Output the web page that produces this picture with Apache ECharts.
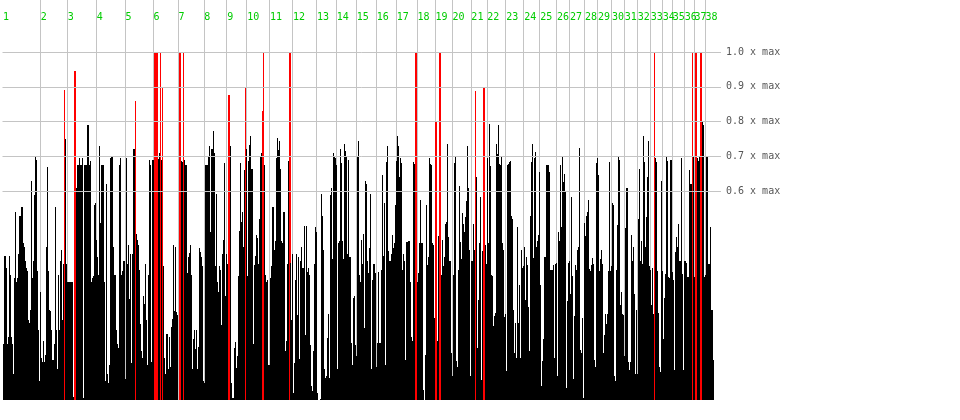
<!DOCTYPE html>
<html>
<head>
<meta charset="utf-8">
<script src="https://cdn.jsdelivr.net/npm/echarts@6.0.0/dist/echarts.min.js"></script>
<style>html,body{margin:0;padding:0;background:#fff;}#c{width:960px;height:420px;}</style>
</head>
<body>
<div id="c"></div>
<script>
// bar values as fraction of max, one per sample
var values = [
0.02,0.16,0.415,0.415,0.38,0.16,0.18,0.415,0.36,0.18,
0.16,0.074,0.35,0.54,0.34,0.35,0.42,0.53,0.53,0.556,
0.556,0.45,0.44,0.40,0.38,0.37,0.23,0.22,0.26,0.63,
0.35,0.40,0.59,0.70,0.69,0.37,0.20,0.055,0.31,0.12,
0.11,0.17,0.11,0.13,0.44,0.67,0.37,0.26,0.255,0.20,
0.115,0.115,0.16,0.555,0.20,0.09,0.36,0.20,0.40,0.43,
0.23,0.39,0.89,0.75,0.39,0.34,0.34,0.34,0.34,0.34,
0.34,0.01,0.945,0.945,0.61,0.675,0.675,0.695,0.675,0.675,
0.695,0.005,0.675,0.675,0.675,0.79,0.79,0.675,0.686,0.34,
0.35,0.356,0.56,0.566,0.46,0.41,0.36,0.73,0.51,0.675,
0.675,0.675,0.34,0.055,0.62,0.074,0.05,0.10,0.694,0.70,
0.70,0.44,0.36,0.36,0.20,0.16,0.15,0.675,0.695,0.36,
0.37,0.40,0.40,0.06,0.694,0.39,0.446,0.29,0.42,0.105,
0.42,0.72,0.72,0.86,0.477,0.46,0.445,0.374,0.217,0.14,
0.12,0.30,0.277,0.39,0.23,0.10,0.358,0.69,0.675,0.11,
0.69,0.69,1.0,1.0,1.0,1.0,0.693,0.71,1.0,0.69,
0.896,0.384,0.12,0.074,0.19,0.19,0.09,0.18,0.096,0.21,
0.233,0.446,0.256,0.44,0.253,0.245,0.0,1.0,1.0,0.687,
0.685,1.0,0.69,0.675,0.675,0.365,0.41,0.423,0.446,0.36,
0.09,0.174,0.20,0.146,0.20,0.09,0.153,0.436,0.425,0.41,
0.384,0.055,0.05,0.675,0.675,0.675,0.70,0.73,0.484,0.72,
0.72,0.774,0.71,0.384,0.593,0.34,0.31,0.384,0.374,0.215,
0.42,0.46,0.68,0.30,0.42,0.39,0.877,0.877,0.73,0.05,
0.005,0.005,0.15,0.166,0.093,0.125,0.355,0.487,0.68,0.512,
0.54,0.44,0.66,0.90,0.72,0.355,0.687,0.732,0.758,0.665,
0.665,0.16,0.387,0.415,0.474,0.465,0.39,0.52,0.70,0.71,
0.83,1.0,0.675,0.36,0.34,0.346,0.10,0.10,0.35,0.384,
0.555,0.555,0.43,0.458,0.694,0.753,0.717,0.745,0.665,0.458,
0.45,0.54,0.54,0.14,0.17,0.39,0.687,1.0,1.0,0.393,
0.23,0.42,0.02,0.105,0.345,0.42,0.245,0.41,0.117,0.40,
0.44,0.38,0.38,0.50,0.187,0.50,0.368,0.38,0.36,0.158,
0.04,0.025,0.14,0.39,0.496,0.484,0.02,0.0,0.0,0.003,
0.593,0.53,0.43,0.09,0.063,0.07,0.177,0.246,0.063,0.59,
0.61,0.406,0.71,0.70,0.694,0.675,0.09,0.45,0.458,0.72,
0.68,0.458,0.406,0.736,0.715,0.70,0.42,0.69,0.41,0.41,
0.165,0.10,0.293,0.30,0.158,0.125,0.70,0.745,0.36,0.34,
0.46,0.39,0.477,0.206,0.628,0.62,0.40,0.365,0.436,0.593,
0.09,0.345,0.39,0.39,0.365,0.096,0.165,0.368,0.165,0.165,
0.374,0.646,0.414,0.565,0.10,0.684,0.73,0.427,0.40,0.40,
0.42,0.474,0.436,0.45,0.56,0.687,0.758,0.73,0.64,0.694,
0.68,0.374,0.42,0.40,0.115,0.455,0.455,0.458,0.458,0.34,
0.18,0.17,0.684,0.677,1.0,1.0,0.34,0.365,0.45,0.574,
0.45,0.45,0.03,0.0,0.13,0.56,0.387,0.41,0.694,0.677,
0.675,0.45,0.446,0.237,0.80,0.80,0.17,0.47,1.0,1.0,
0.358,0.46,0.384,0.41,0.505,0.512,0.737,0.468,0.40,0.40,
0.136,0.07,0.36,0.68,0.70,0.112,0.096,0.374,0.615,0.455,
0.406,0.536,0.505,0.482,0.525,0.572,0.73,0.61,0.43,0.068,
0.40,0.40,0.505,0.43,0.887,0.64,0.148,0.287,0.45,0.584,
0.058,0.427,0.896,0.896,0.446,0.39,0.696,0.45,0.793,0.672,
0.358,0.355,0.212,0.24,0.25,0.736,0.706,0.79,0.677,0.675,
0.70,0.45,0.43,0.238,0.246,0.084,0.675,0.677,0.684,0.687,
0.53,0.52,0.26,0.136,0.22,0.122,0.496,0.22,0.33,0.12,
0.43,0.38,0.384,0.44,0.287,0.41,0.387,0.268,0.14,0.53,
0.684,0.737,0.408,0.694,0.713,0.44,0.458,0.474,0.655,0.33,
0.04,0.112,0.174,0.41,0.41,0.675,0.675,0.675,0.655,0.374,
0.374,0.374,0.387,0.122,0.39,0.393,0.07,0.484,0.458,0.675,
0.496,0.70,0.625,0.65,0.598,0.034,0.284,0.393,0.40,0.306,
0.584,0.355,0.06,0.24,0.387,0.374,0.43,0.39,0.44,0.723,
0.144,0.134,0.237,0.006,0.51,0.47,0.53,0.54,0.574,0.377,
0.372,0.387,0.408,0.39,0.115,0.096,0.68,0.694,0.646,0.372,
0.406,0.43,0.39,0.136,0.187,0.248,0.217,0.246,0.37,0.684,
0.37,0.384,0.565,0.56,0.07,0.055,0.374,0.503,0.70,0.69,
0.274,0.31,0.246,0.244,0.125,0.493,0.61,0.61,0.108,0.085,
0.108,0.474,0.40,0.44,0.306,0.075,0.258,0.074,0.52,0.665,
0.40,0.458,0.39,0.758,0.684,0.44,0.525,0.64,0.745,0.384,
0.374,0.274,0.38,0.246,1.0,0.694,0.684,0.37,0.25,0.096,
0.08,0.63,0.372,0.174,0.293,0.363,0.70,0.687,0.353,0.35,
0.69,0.69,0.368,0.345,0.087,0.425,0.468,0.44,0.505,0.40,
0.40,0.696,0.363,0.087,0.40,0.40,0.393,0.353,0.353,0.66,
0.62,0.62,1.0,0.70,0.353,1.0,1.0,0.694,0.687,0.70,
1.0,1.0,0.80,0.79,0.353,0.358,0.70,0.70,0.39,0.39,
0.496,0.26,0.26,0.115
];
// samples flagged red
var redBars = [62,72,73,133,152,153,154,155,158,160,177,178,181,226,227,243,260,261,287,288,414,415,434,435,438,439,474,482,483,654,692,695,696,700,701];
// sample index where each numbered period starts
var dayStarts = [0,38,65,94,123,151,176,202,225,245,268,291,315,335,355,375,395,416,434,451,470,486,505,523,539,556,569,584,597,611,624,637,650,662,672,684,694,705];
var dayLabels = ['1','2','3','4','5','6','7','8','9','10','11','12','13','14','15','16','17','18','19','20','21','22','23','24','25','26','27','28','29','30','31','32','33','34','35','36','37','38'];
// reference levels
var levels = [1.0, 0.9, 0.8, 0.7, 0.6];

var nCats = 721;
var cats = [];
for (var i = 0; i < nCats; i++) cats.push(i);
var redSet = {};
redBars.forEach(function (r) { redSet[r] = true; });
var seriesData = values.map(function (v, i) { return [i, v, redSet[i] ? 1 : 0]; });
var oddStart = {}, evenStart = {}, allStart = {};
dayStarts.forEach(function (s, k) {
  allStart[s] = true;
  if (k % 2 === 0) oddStart[s] = dayLabels[k]; else evenStart[s] = dayLabels[k];
});

function labelAxis(map, pos, margin, showSplit) {
  return {
    type: 'category',
    data: cats,
    position: pos,
    boundaryGap: true,
    axisLine: { show: false },
    axisTick: { show: false },
    splitLine: {
      show: showSplit,
      showMinLine: false,
      showMaxLine: false,
      interval: function (idx) { return allStart[idx] === true; },
      lineStyle: { color: '#c4c4c4', width: 1 }
    },
    axisLabel: {
      show: true,
      inside: true,
      margin: margin,
      hideOverlap: false,
      interval: function (idx) { return map[idx] !== undefined; },
      formatter: function (v, idx) { return map[idx] || ''; },
      color: '#00cc00',
      fontFamily: 'DejaVu Sans Mono',
      fontSize: 10,
      align: 'left'
    }
  };
}

var chart = echarts.init(document.getElementById('c'), null, { renderer: 'canvas' });
chart.setOption({
  animation: false,
  backgroundColor: '#ffffff',
  grid: { left: 0, top: 0, width: 721, height: 400, containLabel: false },
  xAxis: [labelAxis(oddStart, 'top', 12, true), labelAxis(evenStart, 'bottom', 378, false)],
  yAxis: {
    type: 'value', min: 0, max: 1.1494, show: false,
    splitLine: { show: false }
  },
  series: [{
    type: 'custom',
    xAxisIndex: 0,
    data: seriesData,
    encode: { x: 0, y: 1 },
    silent: true,
    renderItem: function (params, api) {
      var idx = api.value(0);
      var base = api.coord([idx, 0]);
      var top = api.coord([idx, api.value(1)]);
      var bw = api.size([1, 0])[0];
      var x = Math.round(base[0] - bw / 2);
      var y = Math.round(top[1]);
      return {
        type: 'rect',
        shape: { x: x, y: y, width: Math.max(1, Math.round(bw)), height: Math.round(base[1]) - y },
        style: { fill: api.value(2) ? '#ff0000' : '#000000' }
      };
    },
    markLine: {
      silent: true,
      symbol: ['none', 'none'],
      lineStyle: { type: 'solid', color: '#c4c4c4', width: 1 },
      label: {
        show: true, position: 'end', distance: 5,
        color: '#555555', fontFamily: 'DejaVu Sans Mono', fontSize: 10,
        formatter: function (p) { return Number(p.value).toFixed(1) + ' x max'; }
      },
      emphasis: { disabled: true },
      data: levels.map(function (l) { return { yAxis: l }; })
    }
  }]
});
</script>
</body>
</html>
